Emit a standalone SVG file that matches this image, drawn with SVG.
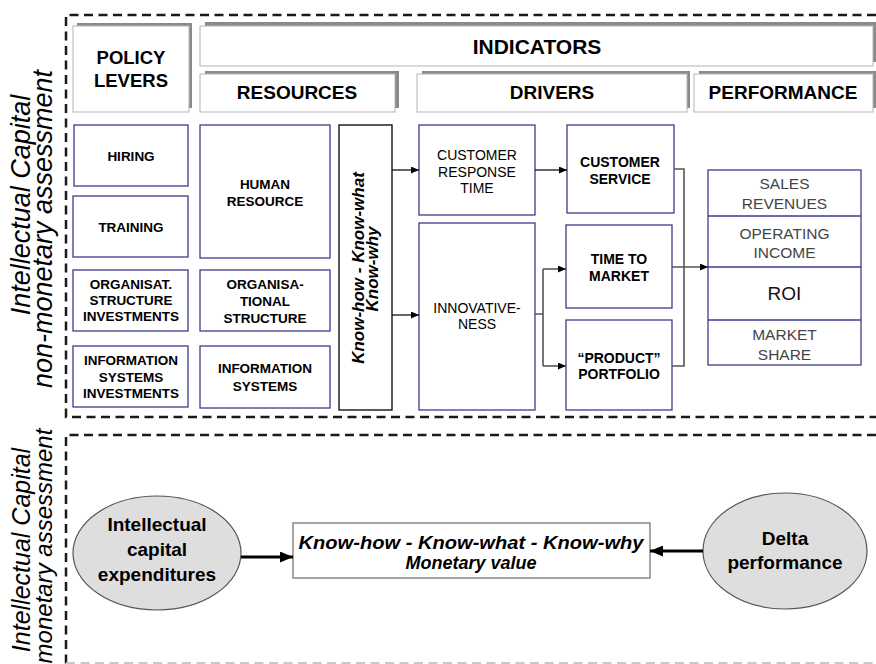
<svg xmlns="http://www.w3.org/2000/svg" width="876" height="664" viewBox="0 0 876 664">
<defs>
<style>
text{font-family:"Liberation Sans",Arial,Helvetica,sans-serif;}
.dash{fill:none;stroke:#1a1a1a;stroke-width:2.5;stroke-dasharray:9 5.5;}
.tabsh{fill:#8a8a8a;}
.tab{fill:#fff;stroke:#b5b5b5;stroke-width:1;}
.hdr{font-size:19px;font-weight:bold;fill:#000;text-anchor:middle;}
.bx{fill:#fff;stroke:#3c3c8e;stroke-width:1.3;}
.bt{font-size:13.5px;font-weight:bold;fill:#000;text-anchor:middle;}
.rt{font-size:14px;fill:#000;text-anchor:middle;}
.pt{font-size:15.5px;fill:#444;text-anchor:middle;}
.side{font-size:27px;font-style:italic;fill:#000;text-anchor:middle;}
.conn{fill:none;stroke:#000;stroke-width:1.2;}
.conng{fill:none;stroke:#555;stroke-width:1.6;}
.thick{fill:none;stroke:#000;stroke-width:3;}
.ell{fill:#dedede;stroke:#555;stroke-width:1.2;}
.et{font-size:19px;font-weight:bold;fill:#000;text-anchor:middle;}
</style>
<marker id="ah" markerUnits="userSpaceOnUse" markerWidth="8" markerHeight="7" refX="8" refY="3.5" orient="auto"><path d="M0,0 L8,3.5 L0,7 z" fill="#000"/></marker>
<marker id="ahb" markerUnits="userSpaceOnUse" markerWidth="13" markerHeight="11" refX="13" refY="5.5" orient="auto"><path d="M0,0 L13,5.5 L0,11 z" fill="#000"/></marker>
</defs>
<rect x="0" y="0" width="876" height="664" fill="#fff"/>

<g id="frames">
<path class="dash" d="M876,15 H66 V417 H876"/>
<path class="dash" d="M876,435 H66 V664"/>
<path d="M66,663 H876" fill="none" stroke="#c8c8c8" stroke-width="2" stroke-dasharray="9 5.5"/>
</g>

<g id="side-labels">
<text class="side" transform="translate(30,205) rotate(-90)">Intellectual Capital</text>
<text class="side" transform="translate(52,229) rotate(-90)">non-monetary assessment</text>
<text class="side" style="font-size:25px" transform="translate(30,550) rotate(-90)">Intellectual Capital</text>
<text class="side" style="font-size:24px" transform="translate(52,546) rotate(-90)">monetary assessment</text>
</g>

<g id="policy-levers">
<rect class="tabsh" x="77" y="23" width="115" height="85"/>
<rect class="tab" x="73" y="26" width="116" height="86"/>
<text class="hdr" style="font-size:18.5px" x="131" y="64">POLICY</text>
<text class="hdr" style="font-size:18.5px" x="131" y="87">LEVERS</text>
</g>
<g id="indicators">
<rect class="tabsh" x="205" y="22" width="671" height="40"/>
<rect class="tab" x="200" y="26" width="673" height="40"/>
<text class="hdr" style="font-size:21px" x="537" y="54">INDICATORS</text>
</g>
<g id="resources">
<rect class="tabsh" x="205" y="71" width="194" height="37"/>
<rect class="tab" x="200" y="74" width="195" height="38"/>
<text class="hdr" x="297" y="99">RESOURCES</text>
</g>
<g id="drivers">
<rect class="tabsh" x="422" y="71" width="268" height="37"/>
<rect class="tab" x="417" y="74" width="270" height="38"/>
<text class="hdr" x="552" y="99">DRIVERS</text>
</g>
<g id="performance">
<rect class="tabsh" x="699" y="71" width="177" height="37"/>
<rect class="tab" x="694" y="74" width="179" height="38"/>
<text class="hdr" x="783" y="99">PERFORMANCE</text>
</g>

<g id="hiring">
<rect class="bx" x="74" y="125" width="114" height="61"/>
<text class="bt" x="131" y="161">HIRING</text>
</g>
<g id="training">
<rect class="bx" x="73" y="196" width="115" height="61"/>
<text class="bt" x="131" y="232">TRAINING</text>
</g>
<g id="org-investments">
<rect class="bx" x="73" y="270" width="115" height="61"/>
<text class="bt" x="131" y="289">ORGANISAT.</text>
<text class="bt" x="131" y="305">STRUCTURE</text>
<text class="bt" x="131" y="321">INVESTMENTS</text>
</g>
<g id="is-investments">
<rect class="bx" x="73" y="346" width="115" height="61"/>
<text class="bt" x="131" y="365">INFORMATION</text>
<text class="bt" x="131" y="381.5">SYSTEMS</text>
<text class="bt" x="131" y="398">INVESTMENTS</text>
</g>

<g id="human-resource">
<rect class="bx" x="200" y="125" width="130" height="133"/>
<text class="bt" x="265" y="189">HUMAN</text>
<text class="bt" x="265" y="206">RESOURCE</text>
</g>
<g id="org-structure">
<rect class="bx" x="200" y="270" width="130" height="61"/>
<text class="bt" x="265" y="289">ORGANISA-</text>
<text class="bt" x="265" y="306">TIONAL</text>
<text class="bt" x="265" y="322.5">STRUCTURE</text>
</g>
<g id="information-systems">
<rect class="bx" x="200" y="346" width="130" height="62"/>
<text class="bt" x="265" y="373">INFORMATION</text>
<text class="bt" x="265" y="390.5">SYSTEMS</text>
</g>

<g id="know-how">
<rect x="339" y="125" width="53" height="285" fill="#fff" stroke="#000" stroke-width="1.3"/>
<text style="font-size:17px;font-weight:bold;font-style:italic;text-anchor:middle" transform="translate(364,268) rotate(-90)">Know-how - Know-what</text>
<text style="font-size:17px;font-weight:bold;font-style:italic;text-anchor:middle" transform="translate(378,269) rotate(-90)">Know-why</text>
</g>

<g id="customer-response-time">
<rect class="bx" x="419" y="125" width="116" height="90"/>
<text class="rt" x="477" y="160">CUSTOMER</text>
<text class="rt" x="477" y="176.5">RESPONSE</text>
<text class="rt" x="477" y="192.5">TIME</text>
</g>
<g id="innovativeness">
<rect class="bx" x="419" y="223" width="116" height="187"/>
<text class="rt" x="477" y="313">INNOVATIVE-</text>
<text class="rt" x="477" y="329">NESS</text>
</g>
<g id="customer-service">
<rect class="bx" x="567" y="125" width="107" height="88"/>
<text class="bt" style="font-size:14px" x="620" y="167">CUSTOMER</text>
<text class="bt" style="font-size:14px" x="620" y="184">SERVICE</text>
</g>
<g id="time-to-market">
<rect class="bx" x="566" y="225" width="106" height="83"/>
<text class="bt" style="font-size:14px" x="619" y="264">TIME TO</text>
<text class="bt" style="font-size:14px" x="619" y="280.5">MARKET</text>
</g>
<g id="product-portfolio">
<rect class="bx" x="566" y="320" width="106" height="90"/>
<text class="bt" style="font-size:14px" x="619" y="363">“PRODUCT”</text>
<text class="bt" style="font-size:14px" x="619" y="379">PORTFOLIO</text>
</g>

<g id="performance-measures">
<rect class="bx" x="708" y="170" width="153" height="195"/>
<path d="M708,216 H861 M708,267 H861 M708,320 H861" stroke="#3c3c8e" stroke-width="1.3"/>
<text class="pt" x="784.5" y="189">SALES</text>
<text class="pt" x="784.5" y="208.5">REVENUES</text>
<text class="pt" x="784.5" y="238.5">OPERATING</text>
<text class="pt" x="784.5" y="258">INCOME</text>
<text style="font-size:19px;fill:#111;text-anchor:middle" x="784.5" y="299.5">ROI</text>
<text class="pt" x="784.5" y="340">MARKET</text>
<text class="pt" x="784.5" y="360">SHARE</text>
</g>

<g id="intellectual-capital-expenditures">
<ellipse class="ell" cx="157" cy="553" rx="84" ry="57"/>
<text class="et" x="157" y="531">Intellectual</text>
<text class="et" x="157" y="556">capital</text>
<text class="et" x="157" y="581">expenditures</text>
</g>
<g id="monetary-value">
<rect x="293" y="523" width="357" height="55" fill="#fff" stroke="#777" stroke-width="1.3"/>
<text style="font-size:18px;font-weight:bold;font-style:italic;text-anchor:middle" x="471" y="549" textLength="345" lengthAdjust="spacingAndGlyphs">Know-how - Know-what - Know-why</text>
<text style="font-size:18px;font-weight:bold;font-style:italic;text-anchor:middle" x="471" y="569">Monetary value</text>
</g>
<g id="delta-performance">
<ellipse class="ell" cx="785" cy="551" rx="82" ry="58"/>
<text class="et" x="785" y="545">Delta</text>
<text class="et" x="785" y="569">performance</text>
</g>

<g id="connectors">
<path class="conn" d="M392,170 H419" marker-end="url(#ah)"/>
<path class="conn" d="M392,315 H419" marker-end="url(#ah)"/>
<path class="conn" d="M535,170 H567" marker-end="url(#ah)"/>
<path class="conng" d="M535,314 H543 M543,269 V366"/>
<path class="conng" d="M543,269 H566" marker-end="url(#ah)"/>
<path class="conng" d="M543,366 H566" marker-end="url(#ah)"/>
<path class="conng" d="M674,169 H684 V366 H672"/>
<path class="conng" d="M672,267 H708" marker-end="url(#ah)"/>
<path class="thick" d="M241,557 H293" marker-end="url(#ahb)"/>
<path class="thick" d="M703,551 H650" marker-end="url(#ahb)"/>
</g>
</svg>
